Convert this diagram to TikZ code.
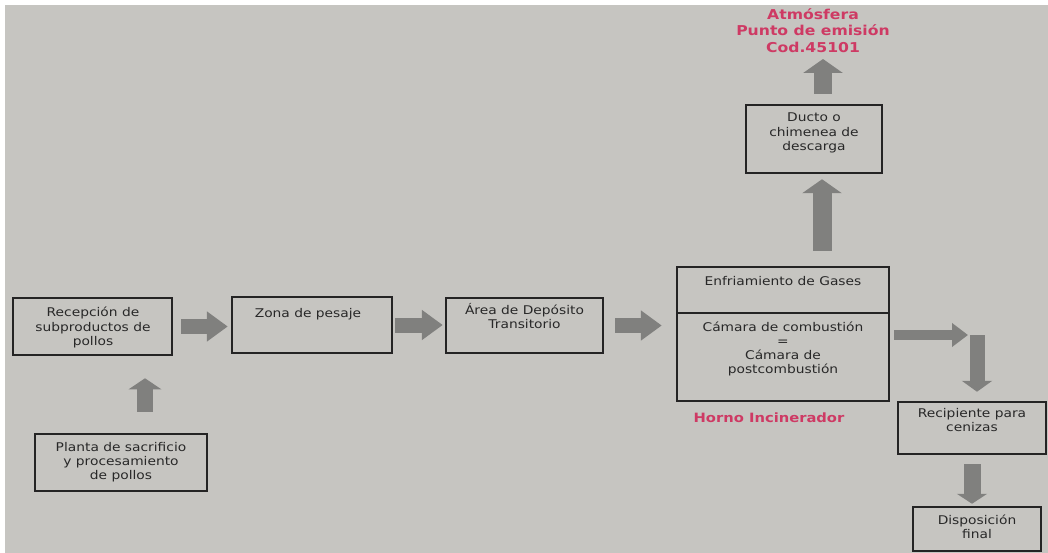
\documentclass[tikz,border=0pt]{standalone}
\usepackage{fontspec}
\setmainfont{DejaVu Sans}[FakeStretch=1.15]
\usetikzlibrary{arrows.meta,calc}
\definecolor{bggray}{RGB}{198,197,193}
\definecolor{boxline}{RGB}{36,36,36}
\definecolor{txtgray}{RGB}{40,40,40}
\definecolor{arrowgray}{RGB}{128,128,126}
\definecolor{redlbl}{RGB}{206,58,100}
\begin{document}
\begin{tikzpicture}[x=1pt,y=-1pt,
  box/.style={draw=boxline,line width=2.5pt,fill=bggray,inner sep=0pt},
  txt/.style={text=txtgray,align=center,inner sep=0pt,anchor=base,font=\fontsize{12}{14.3}\selectfont},
  redtxt/.style={text=redlbl,align=center,inner sep=0pt,anchor=base,font=\bfseries\fontsize{13.6}{16.5}\selectfont},
  harrow/.style={draw=arrowgray,line width=15pt,-{Triangle[length=21pt,width=29pt]}},
  thinarrow/.style={draw=arrowgray,line width=10.5pt,-{Triangle[length=16pt,width=23pt]}},
  uparrow/.style={draw=arrowgray,line width=19pt,-{Triangle[length=14pt,width=39pt]}},
  downarrow/.style={draw=arrowgray,line width=16pt,-{Triangle[length=11pt,width=30pt]}}
]
\useasboundingbox (0,0) rectangle (1048,553);
\fill[white] (0,0) rectangle (1048,553);
\fill[bggray] (5,5) rectangle (1048,553);

% boxes
\node[box,minimum width=159pt,minimum height=57pt] (rec) at (92.5,326.5) {};
\node[box,minimum width=160pt,minimum height=56pt] (zona) at (312,325) {};
\node[box,minimum width=157pt,minimum height=55pt] (area) at (524.5,325.5) {};
\node[box,minimum width=212pt,minimum height=46pt] (hornoT) at (783,290) {};
\node[box,minimum width=212pt,minimum height=88pt] (hornoB) at (783,357) {};
\node[box,minimum width=136pt,minimum height=68pt] (ducto) at (814,139) {};
\node[box,minimum width=148pt,minimum height=52pt] (recip) at (972,428) {};
\node[box,minimum width=128pt,minimum height=44pt] (disp) at (977,529) {};
\node[box,minimum width=172pt,minimum height=57pt] (planta) at (121,462.5) {};

% texts (anchor base = baseline of the last line)
\node[txt] (rect) at (93,345.5) {Recepción de\\subproductos de\\pollos};
\node[txt] (zonat) at (308,317) {Zona de pesaje};
\node[txt] (areat) at (524.5,328.3) {Área de Depósito\\Transitorio};
\node[txt] (hornoTt) at (783,285) {Enfriamiento de Gases};
\node[txt] (hornoBt) at (783,373.9) {Cámara de combustión\\=\\Cámara de\\postcombustión};
\node[txt] (ductot) at (814,150.6) {Ducto o\\chimenea de\\descarga};
\node[txt] (recipt) at (972,431.3) {Recipiente para\\cenizas};
\node[txt] (dispt) at (977,538.3) {Disposición\\final};
\node[txt] (plantat) at (121,479.6) {Planta de sacrificio\\y procesamiento\\de pollos};
\node[redtxt] (atm) at (813,52.5) {Atmósfera\\Punto de emisión\\Cod.45101};
\node[redtxt,font=\bfseries\fontsize{12.8}{15}\selectfont] (horno) at (769,422.5) {Horno Incinerador};

% helper coordinates
\coordinate (pc) at (145,0);
\coordinate (dc) at (822,0);
\coordinate (atmtip) at (823,59);
\coordinate (bend) at (977,335);

% connectors
\draw[harrow,shorten <=8pt,shorten >=3pt] (rec.east) -- (rec.east -| zona.west);
\draw[harrow,shorten <=2pt,shorten >=2pt] (zona.east) -- (zona.east -| area.west);
\draw[harrow,shorten <=11pt,shorten >=14pt] (area.east) -- (area.east -| hornoB.west);
\draw[downarrow,line width=16pt,-{Triangle[length=11pt,width=32pt]},shorten <=21pt,shorten >=22pt] (pc |- planta.north) -- (pc |- rec.south);
\draw[uparrow,shorten <=15pt,shorten >=5pt] (dc |- hornoT.north) -- (dc |- ducto.south);
\draw[uparrow,line width=18pt,shorten <=10pt] (atmtip |- ducto.north) -- (atmtip);
\draw[thinarrow,shorten <=4pt,shorten >=9pt] (hornoB.east |- bend) -- (bend);
\draw[downarrow,line width=15pt,shorten >=9pt] (bend) -- (bend |- recip.north);
\draw[downarrow,line width=17pt,-{Triangle[length=10pt,width=30pt]},shorten <=9pt,shorten >=2pt] (recip.south) -- (recip.south |- disp.north);
\end{tikzpicture}
\end{document}
